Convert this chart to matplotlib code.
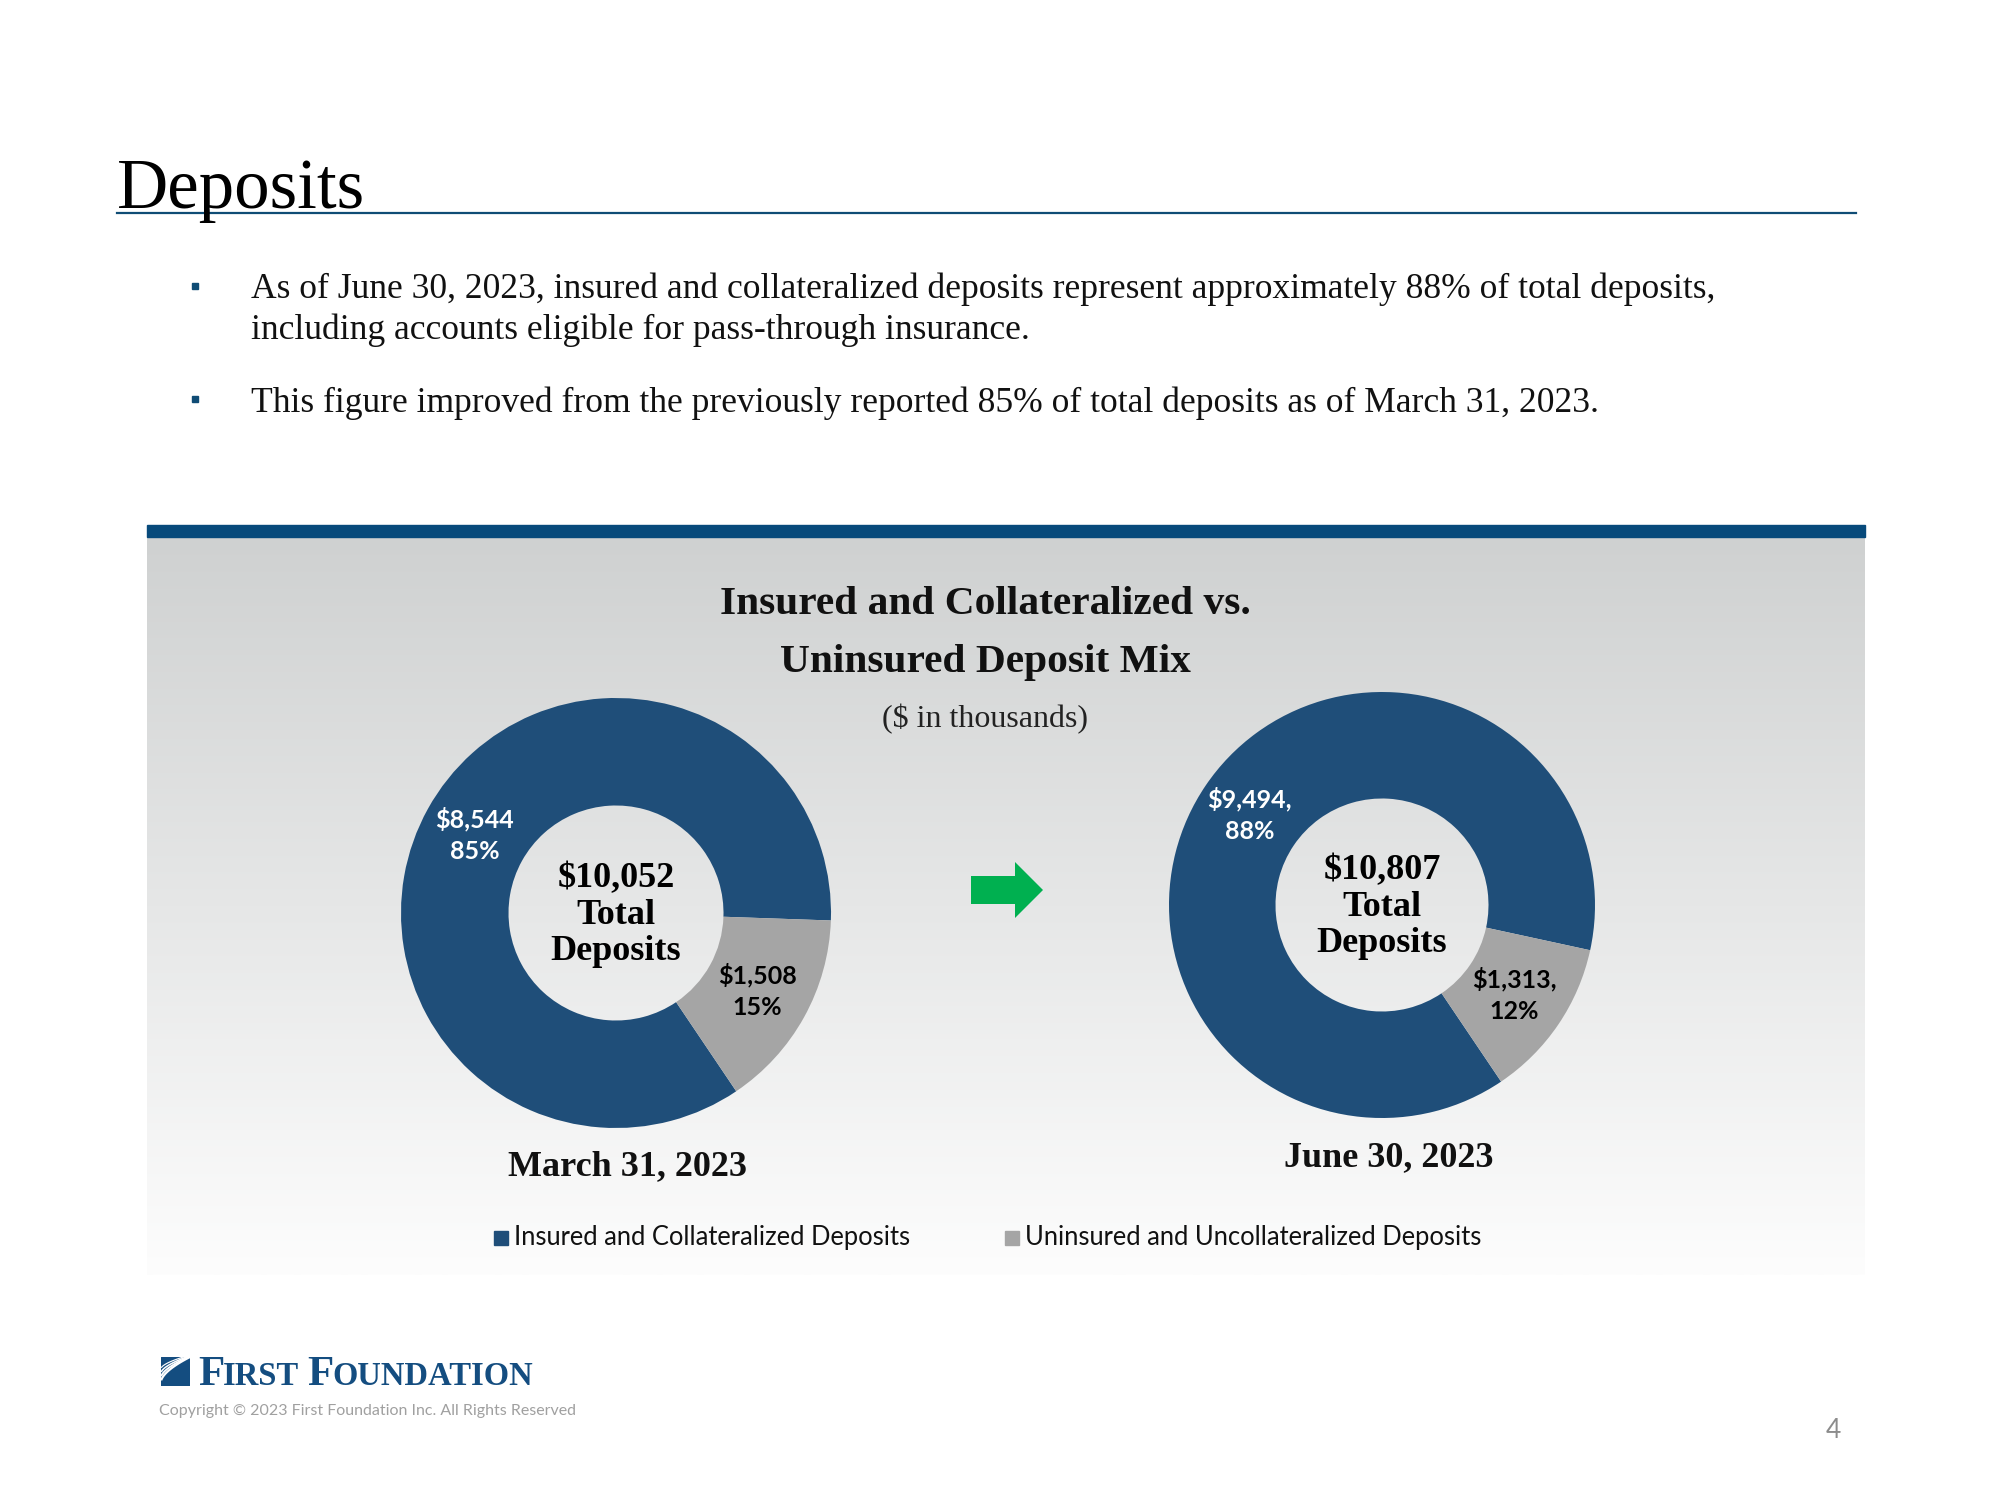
import numpy as np
import matplotlib
matplotlib.use("Agg")
import matplotlib.pyplot as plt
from matplotlib.patches import Rectangle, FancyArrow
from matplotlib.lines import Line2D

# ---------------- data ----------------
dates = ["March 31, 2023", "June 30, 2023"]
insured = [8544, 9494]
uninsured = [1508, 1313]
totals = [10052, 10807]
pct_insured = [85, 88]
pct_uninsured = [15, 12]
label_sep = ["", ","]
legend_labels = ["Insured and Collateralized Deposits", "Uninsured and Uncollateralized Deposits"]
bullets = [
    "As of June 30, 2023, insured and collateralized deposits represent approximately 88% of total deposits,\nincluding accounts eligible for pass-through insurance.",
    "This figure improved from the previously reported 85% of total deposits as of March 31, 2023.",
]
page_title = "Deposits"
chart_title = ["Insured and Collateralized vs.", "Uninsured Deposit Mix"]
chart_subtitle = "($ in thousands)"

# ---------------- style ----------------
BLUE = "#1f4e79"
GRAY = "#a5a5a5"
LINE_BLUE = "#0f4c75"
SERIF = "Liberation Serif"
SANS = "Lato"

W, H = 2000, 1500
fig = plt.figure(figsize=(20, 15), dpi=100)
fig.patch.set_facecolor("white")


def fx(x):
    return x / W


def fy(y):
    return 1 - y / H


def T(x, y, s, **kw):
    return fig.text(fx(x), fy(y), s, **kw)


# page title + underline
T(117, 208, page_title, family=SERIF, fontsize=51, color="black", ha="left", va="baseline")
fig.add_artist(Line2D([fx(117), fx(1856)], [fy(213), fy(213)], color=LINE_BLUE, lw=1.6,
                      transform=fig.transFigure))

# bullets
bullet_y = [287, 400]
for by, txt in zip(bullet_y, bullets):
    fig.add_artist(Rectangle((fx(192), fy(by + 2)), 6 / W, 6 / H, color=LINE_BLUE,
                             transform=fig.transFigure))
    T(251, by - 14, txt, family=SERIF, fontsize=25.6, color="#111111", ha="left", va="top",
      linespacing=1.28)

# panel gradient
bg = fig.add_axes([fx(147), fy(1275), (1865 - 147) / W, (1275 - 537) / H])
top = np.array([0xcf, 0xd1, 0xd1]) / 255
bot = np.array([0xfd, 0xfd, 0xfd]) / 255
t = np.linspace(0, 1, 256)[:, None]
grad = top[None, :] * (1 - t) + bot[None, :] * t
bg.imshow(grad[:, None, :], aspect="auto", extent=[0, 1, 0, 1])
bg.set_axis_off()
fig.add_artist(Rectangle((fx(147), fy(537)), (1865 - 147) / W, 12 / H, color="#074a7b",
                         transform=fig.transFigure, zorder=3))

# chart titles
T(985, 604, chart_title[0], family=SERIF, fontweight="bold", fontsize=29.8, ha="center", va="center",
  color="#111111")
T(985, 663, chart_title[1], family=SERIF, fontweight="bold", fontsize=29.8, ha="center", va="center",
  color="#111111")
T(985, 719, chart_subtitle, family=SERIF, fontsize=23, ha="center", va="center", color="#222222")

# donuts
centers = [(616, 913), (1382, 905)]
radii = [215, 213]
date_pos = [(628, 1167), (1389, 1158)]
for i in range(2):
    cx, cy = centers[i]
    R = radii[i]
    ax = fig.add_axes([fx(cx - R), fy(cy + R), 2 * R / W, 2 * R / H])
    vals = [insured[i], uninsured[i]]
    start = -56
    wedges, _ = ax.pie(vals, colors=[BLUE, GRAY], startangle=start, counterclock=False,
                       radius=1, wedgeprops=dict(width=0.5, linewidth=0))
    ax.set_xlim(-1, 1)
    ax.set_ylim(-1, 1)
    ax.set_aspect("equal")
    ax.set_axis_off()
    sep = label_sep[i]
    labels = [f"${insured[i]:,}{sep}\n{pct_insured[i]}%", f"${uninsured[i]:,}{sep}\n{pct_uninsured[i]}%"]
    tcolors = ["white", "black"]
    for w, lab, tc in zip(wedges, labels, tcolors):
        mid = np.deg2rad((w.theta1 + w.theta2) / 2)
        r = 0.75
        ax.text(r * np.cos(mid), r * np.sin(mid), lab, ha="center", va="center", color=tc,
                family=SANS, fontweight="bold", fontsize=18, linespacing=1.45)
    ax.text(0, -0.01, f"${totals[i]:,}\nTotal\nDeposits", ha="center", va="center", family=SERIF,
            fontweight="bold", fontsize=26, color="black", linespacing=1.13)
    dx, dy = date_pos[i]
    T(dx, dy, dates[i], family=SERIF, fontweight="bold", fontsize=26, ha="center", va="center",
      color="#111111")

# arrow
fig.add_artist(FancyArrow(fx(971), fy(890), 44 / W, 0, width=28 / H, head_width=56 / H,
                          head_length=28 / W, length_includes_head=False, color="#00b050",
                          transform=fig.transFigure, lw=0))

# legend
leg_x = [494, 1005]
for lx, lab, col in zip(leg_x, legend_labels, [BLUE, GRAY]):
    fig.add_artist(Rectangle((fx(lx), fy(1245)), 14 / W, 14 / H, color=col, transform=fig.transFigure))
    T(lx + 20, 1238, lab, family=SANS, fontsize=18.4, ha="left", va="center", color="#111111")

# logo
LOGO = "#144d80"
lg = fig.add_axes([fx(161), fy(1386), 29 / W, 29 / H])
lg.set_xlim(0, 1)
lg.set_ylim(0, 1)
lg.add_patch(Rectangle((0, 0), 1, 1, color=LOGO))
for k, off in enumerate([0.0, 0.15, 0.3, 0.45]):
    xs = np.linspace(0.02, 0.98, 50)
    ys = off + 0.15 + 0.85 * (xs ** 0.6) * (1 - off)
    lg.plot(xs, np.clip(ys, 0, 1), color="white", lw=1.6 - 0.25 * k)
lg.set_axis_off()

renderer = fig.canvas.get_renderer()
x = 198
for word in ["FIRST", "FOUNDATION"]:
    t1 = T(x, 1385, word[0], family=SERIF, fontweight="bold", fontsize=31, color=LOGO,
           ha="left", va="baseline")
    bb = t1.get_window_extent(renderer)
    x += bb.width - 1
    t2 = T(x, 1385, word[1:], family=SERIF, fontweight="bold", fontsize=23.5, color=LOGO,
           ha="left", va="baseline")
    bb = t2.get_window_extent(renderer)
    x += bb.width + 8

T(159, 1411, "Copyright \u00a9 2023 First Foundation Inc. All Rights Reserved", family=SANS,
  fontsize=11.5, color="#a0a0a0", ha="left", va="center")
T(1833, 1431, "4", family=SANS, fontsize=19, color="#8c8c8c", ha="center", va="center")

fig.savefig("out.png", dpi=100)
